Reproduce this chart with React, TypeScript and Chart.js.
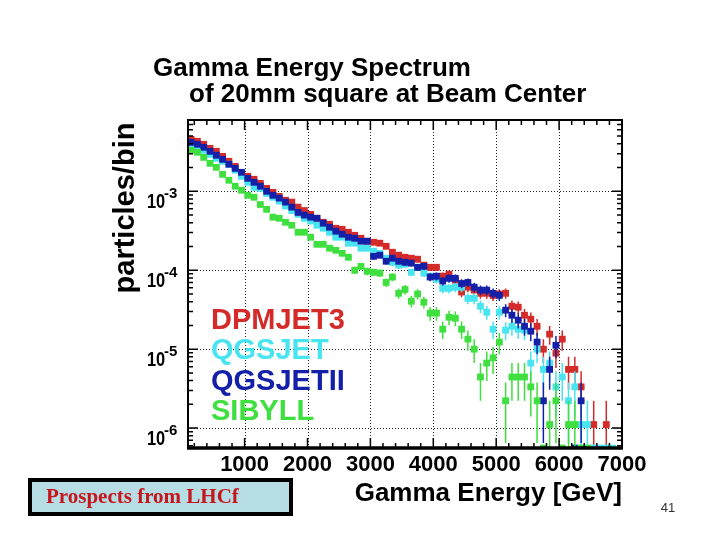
import React, { useEffect, useRef } from 'react';
import { Chart, registerables } from 'chart.js';

Chart.register(...registerables);

// Bin centres (GeV)
const energies = [
  150, 250, 350, 450, 550, 650, 750, 850, 950, 1050,
  1150, 1250, 1350, 1450, 1550, 1650, 1750, 1850, 1950, 2050,
  2150, 2250, 2350, 2450, 2550, 2650, 2750, 2850, 2950, 3050,
  3150, 3250, 3350, 3450, 3550, 3650, 3750, 3850, 3950, 4050,
  4150, 4250, 4350, 4450, 4550, 4650, 4750, 4850, 4950, 5050,
  5150, 5250, 5350, 5450, 5550, 5650, 5750, 5850, 5950, 6050,
  6150, 6250, 6350, 6450, 6550, 6650, 6750, 6850, 6950,
];

const dpmjet3 = [
  4.55e-3, 4.3e-3, 3.94e-3, 3.5e-3, 3.21e-3, 2.77e-3, 2.4e-3, 2.07e-3, 1.69e-3, 1.55e-3,
  1.42e-3, 1.26e-3, 1.09e-3, 9.7e-4, 8.6e-4, 7.7e-4, 7.3e-4, 6.3e-4, 5.7e-4, 5.1e-4,
  4.55e-4, 4.05e-4, 3.82e-4, 3.4e-4, 3.3e-4, 3.03e-4, 2.77e-4, 2.54e-4, 2.33e-4, 2.26e-4,
  2.2e-4, 2.01e-4, 1.69e-4, 1.55e-4, 1.46e-4, 1.42e-4, 1.38e-4, 1.16e-4, 1.09e-4, 1.09e-4,
  8.4e-5, 8.9e-5, 7.5e-5, 5.3e-5, 6.1e-5, 5.6e-5, 5.1e-5, 5.1e-5, 4.8e-5, 5.0e-5,
  5.1e-5, 3.5e-5, 3.4e-5, 2.69e-5, 2.4e-5, 1.95e-5, 1.0e-5, 1.55e-5, 8.9e-6, 1.34e-5,
  5.55e-6, 5.55e-6, 3.33e-6, null, 1.11e-6, null, 1.11e-6, null, null,
];

const qgsjet = [
  3.82e-3, 3.5e-3, 3.3e-3, 2.94e-3, 2.62e-3, 2.4e-3, 2.2e-3, 1.85e-3, 1.55e-3, 1.3e-3,
  1.12e-3, 1.09e-3, 9.4e-4, 8.4e-4, 7.5e-4, 6.5e-4, 5.7e-4, 5.1e-4, 4.55e-4, 4.2e-4,
  3.71e-4, 3.4e-4, 3.03e-4, 2.62e-4, 2.62e-4, 2.2e-4, 2.2e-4, 1.9e-4, 1.9e-4, 1.74e-4,
  1.64e-4, 1.42e-4, 1.26e-4, 1.16e-4, 1.19e-4, 9.4e-5, 1.09e-4, 9.2e-5, 8.4e-5, 7.7e-5,
  5.9e-5, 5.9e-5, 6.1e-5, 6.1e-5, 4.4e-5, 4.4e-5, 3.5e-5, 2.94e-5, 1.79e-5, 2.94e-5,
  1.74e-5, 1.95e-5, 1.79e-5, 1.74e-5, 6.66e-6, 1.0e-5, 5.55e-6, 6.66e-6, 3.33e-6, 4.44e-6,
  2.22e-6, 3.33e-6, 1.11e-6, 1.11e-6, 5.6e-7, 5.6e-7, 5.6e-7, 5.6e-7, null,
];

const qgsjetII = [
  4.17e-3, 3.94e-3, 3.61e-3, 3.21e-3, 2.86e-3, 2.54e-3, 2.2e-3, 1.95e-3, 1.74e-3, 1.46e-3,
  1.3e-3, 1.16e-3, 1.0e-3, 8.9e-4, 8.2e-4, 7.3e-4, 6.3e-4, 5.4e-4, 5.0e-4, 4.7e-4,
  4.55e-4, 3.94e-4, 3.5e-4, 3.12e-4, 2.86e-4, 2.62e-4, 2.54e-4, 2.33e-4, 2.33e-4, 1.5e-4,
  1.55e-4, 1.3e-4, 1.42e-4, 1.3e-4, 1.26e-4, 1.23e-4, 1.09e-4, 1.12e-4, 8.2e-5, 8.4e-5,
  7.3e-5, 7.9e-5, 7.9e-5, 6.8e-5, 7.0e-5, 6.1e-5, 5.6e-5, 5.6e-5, 5.1e-5, 4.8e-5,
  3.12e-5, 2.69e-5, 2.33e-5, 1.95e-5, 1.69e-5, 1.23e-5, 2.22e-6, 5.55e-6, 1.12e-5, null,
  null, 5.6e-7, 2.22e-6, null, null, null, null, null, null,
];

const sibyll = [
  3.3e-3, 3.12e-3, 2.69e-3, 2.26e-3, 2.01e-3, 1.64e-3, 1.38e-3, 1.16e-3, 1.03e-3, 8.9e-4,
  8.4e-4, 6.8e-4, 5.9e-4, 4.7e-4, 4.55e-4, 4.05e-4, 3.71e-4, 3.03e-4, 3.03e-4, 2.62e-4,
  2.13e-4, 2.13e-4, 1.9e-4, 1.79e-4, 1.64e-4, 1.46e-4, 1.0e-4, 1.12e-4, 9.7e-5, 9.4e-5,
  9.2e-5, 7.0e-5, 8.2e-5, 5.1e-5, 5.7e-5, 4.05e-5, 5.0e-5, 3.94e-5, 2.86e-5, 2.86e-5,
  1.79e-5, 2.54e-5, 2.47e-5, 1.79e-5, 1.34e-5, 1.0e-5, 4.44e-6, 6.66e-6, 7.77e-6, 1.23e-5,
  2.22e-6, 4.44e-6, 4.44e-6, 4.44e-6, 3.33e-6, 2.22e-6, 5.6e-7, 1.11e-6, 2.22e-6, 5.6e-7,
  1.11e-6, 1.11e-6, 5.6e-7, 5.6e-7, null, null, null, null, null,
];

const seriesNames = ['DPMJET3', 'QGSJET', 'QGSJETII', 'SIBYLL'];
const seriesColors = ['#d42a2a', '#48e4ef', '#1420a8', '#3fdf3f'];
const seriesValues = [dpmjet3, qgsjet, qgsjetII, sibyll];
const drawOrder = [3, 2, 1, 0]; // lower draws on top

const xTickLabels = ['1000', '2000', '3000', '4000', '5000', '6000', '7000'];
const yDecades = [1e-3, 1e-4, 1e-5, 1e-6];
const yExponents = ['-3', '-4', '-5', '-6'];

const titleLines = ['Gamma Energy Spectrum', 'of 20mm square at Beam Center'];
const xTitle = 'Gamma Energy [GeV]';
const yTitle = 'particles/bin';
const boxText = 'Prospects from LHCf';
const pageNumber = '41';

const X_MIN = 100;
const X_MAX = 7000;
const Y_MIN = 5.6e-7;
const Y_MAX = 8e-3;
const EVENT_WEIGHT = 1.11e-6;
const BIN_HALF = 50;

const FONT = '"Liberation Sans", Arial, Helvetica, sans-serif';

const decorPlugin = {
  id: 'decor',
  beforeDatasetsDraw(chart: any) {
    const { ctx, chartArea: a, scales } = chart;
    const xs = scales.x;
    const ys = scales.y;
    ctx.save();
    ctx.strokeStyle = '#222';
    ctx.lineWidth = 1;
    ctx.setLineDash([1, 2]);
    for (let v = 1000; v < X_MAX; v += 1000) {
      const px = Math.round(xs.getPixelForValue(v)) + 0.5;
      ctx.beginPath();
      ctx.moveTo(px, a.top);
      ctx.lineTo(px, a.bottom);
      ctx.stroke();
    }
    yDecades.forEach((d) => {
      const py = Math.round(ys.getPixelForValue(d)) + 0.5;
      ctx.beginPath();
      ctx.moveTo(a.left, py);
      ctx.lineTo(a.right, py);
      ctx.stroke();
    });
    ctx.restore();
  },
  beforeDatasetDraw(chart: any, args: any) {
    const { ctx, chartArea: a, scales } = chart;
    const xs = scales.x;
    const ys = scales.y;
    const ds = chart.data.datasets[args.index];
    ctx.save();
    ctx.beginPath();
    ctx.rect(a.left, a.top, a.right - a.left, a.bottom - a.top);
    ctx.clip();
    ctx.strokeStyle = ds.backgroundColor;
    ctx.lineWidth = 1.5;
    ds.data.forEach((p: any) => {
      if (p.y <= Y_MIN * 1.01) return;
      const sigma = Math.sqrt(p.y * EVENT_WEIGHT);
      const lo = p.y - sigma > Y_MIN ? p.y - sigma : Y_MIN;
      const hi = p.y + sigma;
      const px = xs.getPixelForValue(p.x);
      const py = ys.getPixelForValue(p.y);
      ctx.beginPath();
      ctx.moveTo(px, ys.getPixelForValue(lo));
      ctx.lineTo(px, ys.getPixelForValue(hi));
      ctx.moveTo(xs.getPixelForValue(p.x - BIN_HALF), py);
      ctx.lineTo(xs.getPixelForValue(p.x + BIN_HALF), py);
      ctx.stroke();
    });
    ctx.restore();
  },
  afterDatasetsDraw(chart: any) {
    const { ctx, chartArea: a, scales } = chart;
    const xs = scales.x;
    const ys = scales.y;
    ctx.save();
    ctx.strokeStyle = '#000';
    ctx.lineWidth = 1.5;
    // x ticks (bottom and top)
    for (let v = 200; v <= X_MAX; v += 200) {
      const major = v % 1000 === 0;
      const len = major ? 10 : 5;
      const px = xs.getPixelForValue(v);
      ctx.beginPath();
      ctx.moveTo(px, a.bottom);
      ctx.lineTo(px, a.bottom - len);
      ctx.moveTo(px, a.top);
      ctx.lineTo(px, a.top + len);
      ctx.stroke();
    }
    // y ticks (left and right)
    for (let e = -7; e <= -2; e++) {
      for (let m = 1; m <= 9; m++) {
        const v = m * Math.pow(10, e);
        if (v < Y_MIN || v > Y_MAX) continue;
        const len = m === 1 ? 10 : 5;
        const py = ys.getPixelForValue(v);
        ctx.beginPath();
        ctx.moveTo(a.left, py);
        ctx.lineTo(a.left + len, py);
        ctx.moveTo(a.right, py);
        ctx.lineTo(a.right - len, py);
        ctx.stroke();
      }
    }
    // frame
    ctx.lineWidth = 2;
    ctx.strokeRect(a.left, a.top, a.right - a.left, a.bottom - a.top);
    ctx.lineWidth = 3.5;
    ctx.beginPath();
    ctx.moveTo(a.left - 1, a.bottom);
    ctx.lineTo(a.right + 1, a.bottom);
    ctx.stroke();
    ctx.restore();
  },
  afterDraw(chart: any) {
    const { ctx, chartArea: a, scales } = chart;
    const xs = scales.x;
    const ys = scales.y;
    ctx.save();
    ctx.fillStyle = '#000';
    // title
    ctx.font = `bold 26px ${FONT}`;
    ctx.textAlign = 'left';
    ctx.textBaseline = 'alphabetic';
    ctx.fillText(titleLines[0], 153, 76);
    ctx.fillText(titleLines[1], 189, 102);

    // x tick labels
    ctx.font = `bold 22px ${FONT}`;
    ctx.textAlign = 'center';
    xTickLabels.forEach((t) => {
      ctx.fillText(t, xs.getPixelForValue(Number(t)), 471);
    });

    // y tick labels with superscripts
    yDecades.forEach((d, i) => {
      const py = ys.getPixelForValue(d);
      ctx.save();
      ctx.translate(147, py + 17);
      ctx.scale(0.78, 1);
      ctx.font = `bold 21px ${FONT}`;
      ctx.textAlign = 'left';
      ctx.fillText('10', 0, 0);
      ctx.restore();
      ctx.font = `bold 15px ${FONT}`;
      ctx.textAlign = 'left';
      ctx.fillText(yExponents[i], 164, py + 7);
    });

    // axis titles
    ctx.font = `bold 26px ${FONT}`;
    ctx.textAlign = 'right';
    ctx.fillText(xTitle, a.right, 501);

    ctx.save();
    ctx.translate(126, 208);
    ctx.rotate(-Math.PI / 2);
    ctx.font = `bold 29px ${FONT}`;
    ctx.textAlign = 'center';
    ctx.textBaseline = 'middle';
    ctx.fillText(yTitle, 0, 0);
    ctx.restore();

    // in-plot legend
    ctx.font = `bold 29px ${FONT}`;
    ctx.textAlign = 'left';
    const legendBaselines = [329, 359, 390, 420];
    seriesNames.forEach((n, i) => {
      ctx.fillStyle = seriesColors[i];
      ctx.fillText(n, 211, legendBaselines[i]);
    });

    // bottom-left box
    ctx.fillStyle = '#b6dde3';
    ctx.fillRect(30, 480, 261, 34);
    ctx.strokeStyle = '#000';
    ctx.lineWidth = 4;
    ctx.strokeRect(30, 480, 261, 34);
    ctx.fillStyle = '#c4161c';
    ctx.font = 'bold 21px "Liberation Serif", "Times New Roman", serif';
    ctx.fillText(boxText, 46, 503);

    // page number
    ctx.fillStyle = '#333';
    ctx.font = `13px ${FONT}`;
    ctx.textAlign = 'center';
    ctx.fillText(pageNumber, 668, 512);
    ctx.restore();
  },
};

export default function App() {
  const canvasRef = useRef<HTMLCanvasElement | null>(null);

  useEffect(() => {
    if (!canvasRef.current) return;
    const datasets = seriesNames.map((name, i) => ({
      label: name,
      data: energies
        .map((e, k) => ({ x: e, y: seriesValues[i][k] }))
        .filter((p) => p.y !== null && p.y !== undefined),
      backgroundColor: seriesColors[i],
      borderColor: seriesColors[i],
      pointStyle: 'rect',
      pointRadius: 4.8,
      pointBorderWidth: 0,
      pointHoverRadius: 4.8,
      showLine: false,
      order: drawOrder[i],
    }));
    const chart = new Chart(canvasRef.current, {
      type: 'scatter',
      data: { datasets } as any,
      options: {
        responsive: false,
        animation: false,
        devicePixelRatio: 1,
        layout: { padding: { left: 188, right: 98, top: 120, bottom: 92 } },
        plugins: {
          legend: { display: false },
          tooltip: { enabled: false },
          title: { display: false },
        },
        scales: {
          x: { type: 'linear', min: X_MIN, max: X_MAX, display: false },
          y: { type: 'logarithmic', min: Y_MIN, max: Y_MAX, display: false },
        },
      } as any,
      plugins: [decorPlugin],
    });
    return () => chart.destroy();
  }, []);

  return (
    <div style={{ position: 'fixed', left: 0, top: 0, width: 720, height: 540, background: '#fff' }}>
      <canvas ref={canvasRef} width={720} height={540} style={{ width: 720, height: 540 }} />
    </div>
  );
}
